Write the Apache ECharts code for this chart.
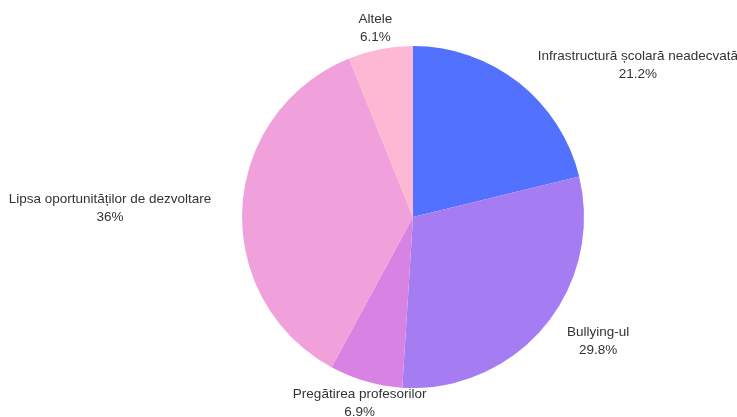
<!DOCTYPE html>
<html>
<head>
<meta charset="utf-8">
<script src="https://cdn.jsdelivr.net/npm/echarts@6/dist/echarts.min.js"></script>
<style>
  html, body { margin: 0; padding: 0; background: #fff; }
  #main { width: 737px; height: 417px; }
</style>
</head>
<body>
<div id="main"></div>
<script>
var categories = ['Infrastructură școlară neadecvată', 'Bullying-ul', 'Pregătirea profesorilor', 'Lipsa oportunităților de dezvoltare', 'Altele'];
var values = [21.2, 29.8, 6.9, 36, 6.1];
var colors = ['#5271ff', '#a67cf2', '#d883e3', '#f0a0da', '#ffb8d4'];

var chart = echarts.init(document.getElementById('main'));

var data = [];
for (var i = 0; i < categories.length; i++) {
  data.push({
    name: categories[i],
    value: values[i],
    itemStyle: { color: colors[i] }
  });
}

// small per-label tweaks so the labels sit where the reference has them
var labelTweak = {
  0: { dx: 3, dy: 3 },
  1: { dx: 3, dy: -2 },
  2: { dx: 1, dy: -3, align: 'center' },
  3: { dx: -5, dy: 2 },
  4: { dx: 0, dy: 5, align: 'center' }
};

var option = {
  animation: false,
  series: [
    {
      type: 'pie',
      center: ['56.04%', '52.04%'],
      radius: 171,
      startAngle: 90,
      clockwise: true,
      avoidLabelOverlap: false,
      itemStyle: { borderWidth: 0 },
      label: {
        show: true,
        position: 'outside',
        formatter: '{n|{b}}\n{n|{c}%}',
        distanceToLabelLine: 0,
        rich: {
          n: {
            align: 'center',
            color: '#333333',
            fontSize: 13.5,
            lineHeight: 18,
            fontFamily: 'Liberation Sans, Arial, sans-serif'
          }
        }
      },
      labelLine: {
        show: false,
        length: 26,
        length2: 0
      },
      labelLayout: function (params) {
        return labelTweak[params.dataIndex] || {};
      },
      data: data
    }
  ]
};
chart.setOption(option);
</script>
</body>
</html>
